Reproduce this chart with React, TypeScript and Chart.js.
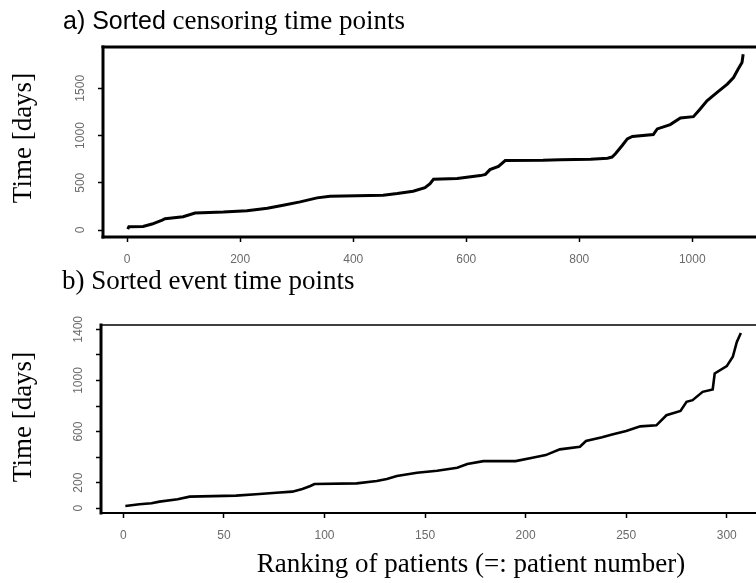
import React, { useEffect, useRef } from "react";
import { Chart, registerables } from "chart.js";

Chart.register(...registerables);

// ---- Panel a: sorted censoring time points ----
const censorRank = [1, 3, 28, 44, 62, 67, 99, 120, 170, 212, 248, 276, 306, 336, 359, 453, 478, 506, 527, 536, 542, 584, 625, 634, 642, 657, 669, 736, 766, 820, 850, 858, 864, 876, 885, 894, 931, 938, 961, 979, 1002, 1014, 1026, 1044, 1062, 1073, 1081, 1088, 1090];
const censorDays = [10, 35, 38, 63, 105, 120, 140, 179, 190, 205, 230, 263, 298, 340, 358, 368, 386, 410, 449, 491, 537, 544, 576, 589, 639, 674, 735, 738, 744, 750, 760, 772, 807, 895, 965, 990, 1010, 1070, 1116, 1186, 1200, 1281, 1368, 1456, 1544, 1614, 1702, 1772, 1860];
const censorXTicks = [0, 200, 400, 600, 800, 1000];
const censorYTicks = [0, 500, 1000, 1500];
const censorYLabels = ["0", "500", "1000", "1500"];

// ---- Panel b: sorted event time points ----
const eventRank = [1, 8, 14, 18, 27, 33, 56, 66, 76, 84, 89, 93, 95, 116, 126, 131, 136, 146, 156, 166, 171, 179, 195, 204, 210, 217, 227, 230, 238, 243, 250, 257, 265, 270, 277, 280, 283, 288, 293, 294, 300, 303, 305, 307];
const eventDays = [18, 31, 39, 52, 70, 91, 99, 110, 122, 130, 151, 174, 190, 195, 213, 229, 252, 278, 294, 317, 346, 369, 369, 398, 416, 461, 481, 526, 555, 577, 605, 641, 649, 728, 762, 833, 846, 911, 930, 1055, 1112, 1185, 1302, 1372];
const eventXTicks = [0, 50, 100, 150, 200, 250, 300];
const eventYTicks = [0, 200, 400, 600, 800, 1000, 1200, 1400];
const eventYLabels = ["0", "200", "", "600", "", "1000", "", "1400"];

const SERIF = '"Liberation Serif", "Times New Roman", serif';
const SANS = '"Liberation Sans", Arial, sans-serif';

type PanelOpts = {
  xs: number[];
  ys: number[];
  xTicks: number[];
  yTicks: number[];
  yLabels: string[];
  xMin: number;
  xMax: number;
  yMin: number;
  yMax: number;
  padTop: number;
  padRight: number;
  yWidth: number;
  xHeight: number;
  lineWidth: number;
  topW: number;
  leftW: number;
  bottomW: number;
  rightW: number;
};

function makeConfig(o: PanelOpts): any {
  const boxPlugin = {
    id: "boxAndLabels",
    afterDraw(chart: any) {
      const ctx = chart.ctx as CanvasRenderingContext2D;
      const a = chart.chartArea;
      ctx.save();
      ctx.strokeStyle = "#000";
      ctx.lineCap = "square";
      const seg = (w: number, x1: number, y1: number, x2: number, y2: number) => {
        ctx.lineWidth = w;
        ctx.beginPath();
        ctx.moveTo(x1, y1);
        ctx.lineTo(x2, y2);
        ctx.stroke();
      };
      seg(o.topW, a.left, a.top, a.right, a.top);
      seg(o.bottomW, a.left, a.bottom, a.right, a.bottom);
      seg(o.leftW, a.left, a.top, a.left, a.bottom);
      seg(o.rightW, a.right, a.top, a.right, a.bottom);
      // rotated y tick labels (R style)
      const ys = chart.scales.y;
      ctx.fillStyle = "#6a6a6a";
      ctx.font = "12px " + SANS;
      ctx.textAlign = "center";
      ctx.textBaseline = "middle";
      o.yTicks.forEach((v, i) => {
        const lab = o.yLabels[i];
        if (!lab) return;
        const py = ys.getPixelForValue(v);
        ctx.save();
        ctx.translate(a.left - 22, py);
        ctx.rotate(-Math.PI / 2);
        ctx.fillText(lab, 0, 0);
        ctx.restore();
      });
      ctx.restore();
    },
  };

  const grid = {
    display: true,
    drawOnChartArea: false,
    drawTicks: true,
    tickLength: 5,
    tickWidth: 1.5,
    tickColor: "#000",
  };

  return {
    type: "line",
    data: {
      datasets: [
        {
          data: o.xs.map((x, i) => ({ x, y: o.ys[i] })),
          borderColor: "#000",
          borderWidth: o.lineWidth,
          pointRadius: 0,
          tension: 0,
          fill: false,
        },
      ],
    },
    options: {
      animation: false,
      responsive: false,
      maintainAspectRatio: false,
      events: [],
      layout: { padding: { top: o.padTop, right: o.padRight, left: 0, bottom: 0 } },
      plugins: { legend: { display: false }, tooltip: { enabled: false }, title: { display: false } },
      scales: {
        x: {
          type: "linear",
          min: o.xMin,
          max: o.xMax,
          afterBuildTicks: (s: any) => {
            s.ticks = o.xTicks.map((v) => ({ value: v }));
          },
          afterFit: (s: any) => {
            s.height = o.xHeight;
          },
          grid,
          border: { display: false },
          ticks: {
            autoSkip: false,
            maxRotation: 0,
            minRotation: 0,
            padding: 10,
            color: "#6a6a6a",
            font: { family: SANS, size: 12 },
            callback: (v: any) => String(v),
          },
        },
        y: {
          type: "linear",
          min: o.yMin,
          max: o.yMax,
          afterBuildTicks: (s: any) => {
            s.ticks = o.yTicks.map((v) => ({ value: v }));
          },
          afterFit: (s: any) => {
            s.width = o.yWidth;
          },
          grid,
          border: { display: false },
          ticks: { display: false },
        },
      },
    },
    plugins: [boxPlugin],
  };
}

function Panel(props: { opts: PanelOpts; top: number; height: number }) {
  const ref = useRef<HTMLCanvasElement | null>(null);
  useEffect(() => {
    if (!ref.current) return;
    const chart = new Chart(ref.current, makeConfig(props.opts));
    return () => chart.destroy();
  }, []);
  return (
    <canvas
      ref={ref}
      width={780}
      height={props.height}
      style={{ position: "absolute", left: 0, top: props.top, width: 780, height: props.height, display: "block" }}
    />
  );
}

const panelA: PanelOpts = {
  xs: censorRank,
  ys: censorDays,
  xTicks: censorXTicks,
  yTicks: censorYTicks,
  yLabels: censorYLabels,
  xMin: -42.8,
  xMax: 1134,
  yMin: -74,
  yMax: 1937,
  padTop: 47,
  padRight: 12,
  yWidth: 103,
  xHeight: 43,
  lineWidth: 3,
  topW: 3,
  leftW: 3,
  bottomW: 3,
  rightW: 3,
};

const panelB: PanelOpts = {
  xs: eventRank,
  ys: eventDays,
  xTicks: eventXTicks,
  yTicks: eventYTicks,
  yLabels: eventYLabels,
  xMin: -11.1,
  xMax: 319.5,
  yMin: -37,
  yMax: 1434,
  padTop: 45,
  padRight: 14,
  yWidth: 101,
  xHeight: 70,
  lineWidth: 2.6,
  topW: 1.5,
  leftW: 3,
  bottomW: 2,
  rightW: 2,
};

export default function App() {
  const textBase: React.CSSProperties = {
    position: "absolute",
    fontFamily: SERIF,
    fontSize: 27,
    lineHeight: "27px",
    whiteSpace: "nowrap",
    color: "#000",
  };
  return (
    <div
      style={{
        position: "absolute",
        left: 0,
        top: 0,
        width: 756,
        height: 583,
        overflow: "hidden",
        background: "#fff",
      }}
    >
      <Panel opts={panelA} top={0} height={280} />
      <Panel opts={panelB} top={280} height={303} />
      <div style={{ ...textBase, left: 63, top: 7 }}>
        <span style={{ fontFamily: SANS, fontSize: 25 }}>a) Sorted</span> censoring time points
      </div>
      <div style={{ ...textBase, left: 62, top: 267 }}>b) Sorted event time points</div>
      <div style={{ ...textBase, left: 471, top: 550, transform: "translateX(-50%)" }}>
        Ranking of patients (=: patient number)
      </div>
      <div
        style={{
          ...textBase,
          left: 22,
          top: 138,
          transform: "translate(-50%, -50%) rotate(-90deg)",
        }}
      >
        Time [days]
      </div>
      <div
        style={{
          ...textBase,
          left: 22,
          top: 417,
          transform: "translate(-50%, -50%) rotate(-90deg)",
        }}
      >
        Time [days]
      </div>
    </div>
  );
}
